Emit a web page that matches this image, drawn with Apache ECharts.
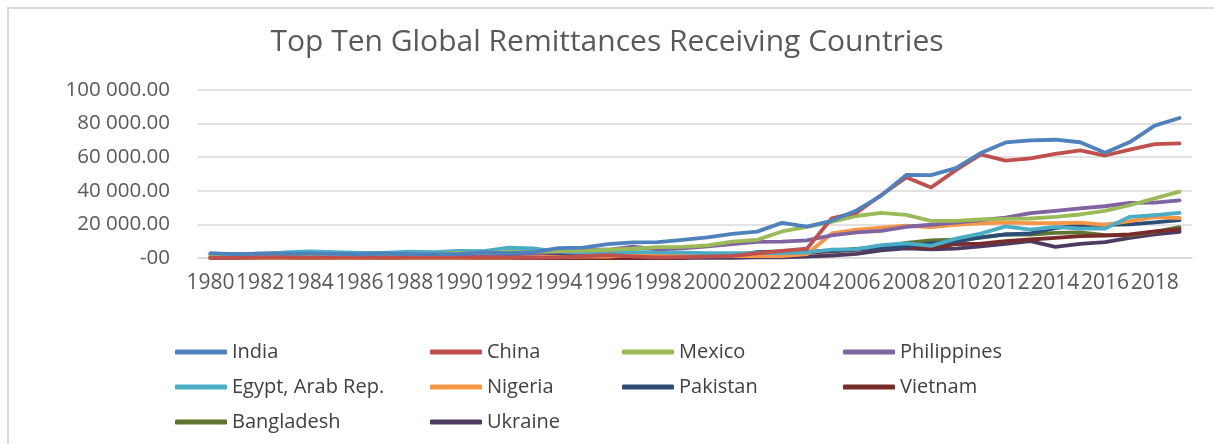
<!DOCTYPE html>
<html>
<head>
<meta charset="utf-8">
<script src="https://cdn.jsdelivr.net/npm/echarts@6/dist/echarts.min.js"></script>
<style>
html,body{margin:0;padding:0;background:#fff;}
#c{width:1214px;height:444px;}
</style>
</head>
<body>
<div id="c"></div>
<script>
var years = [];
for (var y = 1980; y <= 2019; y++) years.push(String(y));

var india = [2760,2300,2620,2660,2590,2470,2240,2670,2320,2290,2380,3290,2900,3520,5860,6220,8200,9300,9500,10800,12300,14300,15700,20900,18700,22100,28300,37200,49500,49300,53500,62500,68800,70000,70400,68900,62700,69000,78800,83300];
var china = [0,0,560,490,280,180,230,240,410,240,200,270,230,110,400,1050,1670,1000,400,550,760,1200,2800,4200,5500,23600,27000,37500,48000,42000,52300,61600,58000,59300,62000,64000,61000,64500,67800,68200];
var mexico = [1040,1200,1200,1400,1700,1600,1800,2000,2200,2300,3100,3000,3700,3700,4100,4400,4900,5500,6500,6600,7500,9800,10800,15800,18500,21500,25000,26800,25700,22100,22100,23000,23300,23500,24500,25900,28000,31400,35500,39500];
var philippines = [420,600,800,900,750,800,850,1000,1100,1200,1470,1850,2540,2590,3450,5000,4900,6800,5100,5800,6900,8300,9600,9800,10500,13500,15300,16100,18600,19800,21000,22500,24000,26700,28000,29500,30800,32800,33000,34300];
var egypt = [2700,2200,2100,3300,3900,3500,2970,3000,3800,3500,4300,4100,6100,5700,3700,3200,3100,3700,3400,3200,2850,2900,2900,2960,3300,5000,5300,7700,8700,7200,11500,14500,18800,16900,18500,17500,17500,24500,25500,26800];
var nigeria = [30,30,40,30,20,10,10,20,10,10,10,70,60,800,550,800,900,1900,1570,1300,1390,1170,1200,1060,2270,14600,16900,18000,19200,18400,19700,20600,21000,20800,20800,21000,19700,22000,24300,23800];
var pakistan = [2040,2200,2600,2900,2700,2500,2600,2200,2000,1900,2000,1500,1570,1560,1450,1710,1460,1410,1230,990,1080,1460,3550,3960,3950,4280,5100,6000,7000,8700,9700,12300,14000,14600,17800,19600,19800,20000,21200,22500];
var vietnam = [0,0,0,0,0,0,0,0,0,0,0,0,0,0,0,0,0,0,0,0,1340,1100,2700,2800,3200,4000,4800,6200,6800,6000,8300,8600,10000,11000,12000,13000,13400,14000,15900,17000];
var bangladesh = [340,380,530,630,500,500,580,750,760,760,780,770,900,1000,1150,1200,1350,1500,1600,1800,1970,2100,2860,3190,3580,4300,5400,6550,8940,10500,10850,12070,14100,13900,15000,15300,13600,13500,15600,18400];
var ukraine = [0,0,0,0,0,0,0,0,0,0,0,0,0,0,0,0,20,30,30,30,30,140,330,400,800,1500,2500,4500,5800,5100,5600,7000,8400,10000,6600,8400,9500,12000,14000,15600];

var seriesNames = ['India','China','Mexico','Philippines','Egypt, Arab Rep.','Nigeria','Pakistan','Vietnam','Bangladesh','Ukraine'];
var seriesData = [india,china,mexico,philippines,egypt,nigeria,pakistan,vietnam,bangladesh,ukraine];
var colors = ['#4F81BD','#C0504D','#9BBB59','#8064A2','#4BACC6','#F79646','#2C4D75','#772C2A','#5F7530','#4D3B62'];
var yTicks = [0,20000,40000,60000,80000,100000];

var font = '"Open Sans", "Noto Sans", sans-serif';

function fmt(v){
  if (v === 0) return '-00';
  var s = String(Math.round(v));
  var out = '';
  while (s.length > 3){ out = ' ' + s.slice(-3) + out; s = s.slice(0, -3); }
  return s + out + '.00';
}

var legendCols = [
  {left:170, names:['India','Egypt, Arab Rep.','Bangladesh']},
  {left:425, names:['China','Nigeria','Ukraine']},
  {left:617, names:['Mexico','Pakistan']},
  {left:838, names:['Philippines','Vietnam']}
];

var legends = legendCols.map(function(c){
  return {
    orient:'vertical', left:c.left, top:336, data:c.names,
    icon:'roundRect', itemWidth:52, itemHeight:5, itemGap:13,
    textStyle:{fontFamily:font, fontSize:20, color:'#404040', lineHeight:22},
    selectedMode:false
  };
});

var chart = echarts.init(document.getElementById('c'), null, {renderer:'canvas'});
chart.setOption({
  animation:false,
  color:colors,
  title:{
    text:'Top Ten Global Remittances Receiving Countries',
    left:'center', top:22,
    textStyle:{fontFamily:font, fontSize:30, fontWeight:'normal', color:'#595959'}
  },
  graphic:[{
    type:'rect', shape:{x:8, y:8, width:1230, height:460},
    style:{fill:'none', stroke:'#d9d9d9', lineWidth:2}, silent:true
  }],
  legend:legends,
  grid:{left:198, right:22, top:90, bottom:186, containLabel:false},
  xAxis:{
    type:'category', data:years, boundaryGap:true,
    axisLine:{show:true, lineStyle:{color:'#d9d9d9', width:1.5}},
    axisTick:{show:false},
    axisLabel:{interval:1, margin:15, fontFamily:font, fontSize:21, color:'#595959', hideOverlap:false}
  },
  yAxis:{
    type:'value', min:yTicks[0], max:yTicks[yTicks.length-1], interval:20000,
    axisLine:{show:false}, axisTick:{show:false},
    splitLine:{lineStyle:{color:'#d9d9d9', width:1.5}},
    axisLabel:{margin:28, fontFamily:font, fontSize:20.5, color:'#595959', formatter:fmt}
  },
  series:seriesNames.map(function(n,i){
    return {
      name:n, type:'line', data:seriesData[i], showSymbol:false, symbol:'none',
      lineStyle:{width:3.8, cap:'round', join:'round'}, z:2+(9-i)
    };
  })
});
</script>
</body>
</html>
